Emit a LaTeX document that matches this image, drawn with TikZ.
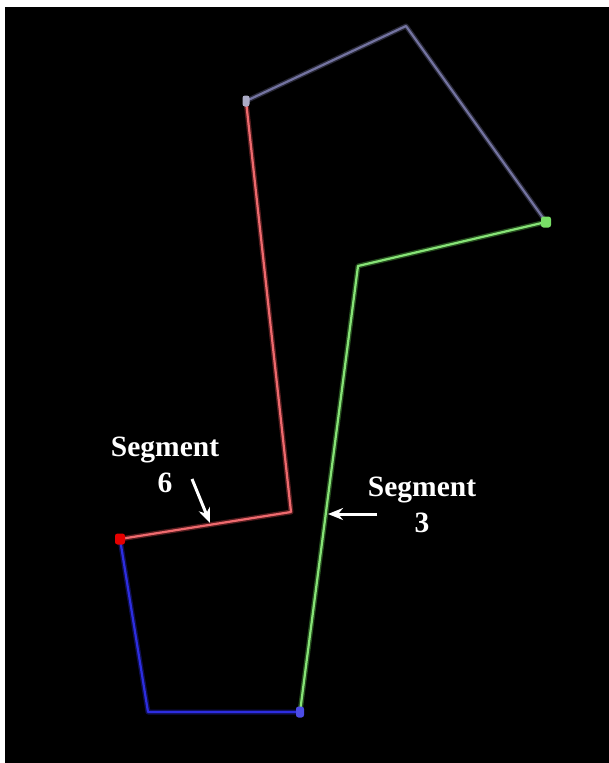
\documentclass[tikz,border=0pt]{standalone}
\usepackage{fontspec}
\setmainfont{Liberation Serif}
\usepackage{tikz}
\usetikzlibrary{arrows.meta, positioning}
\usepackage{xcolor}

\definecolor{seggray}{RGB}{115,115,160}
\definecolor{seggreen}{RGB}{105,220,85}
\definecolor{segblue}{RGB}{45,45,225}
\definecolor{segred}{RGB}{235,80,85}

\begin{document}
\begin{tikzpicture}[
  x=1pt, y=-1pt,
  >=Stealth,
  link/.style={line width=2.2pt, line join=round, line cap=round},
  glow/.style={line width=5pt, line join=round, line cap=round, opacity=0.35},
  joint/.style={
    rectangle, rounded corners=2.5pt, inner sep=0pt,
    minimum width=10pt, minimum height=11pt
  },
  tag/.style={
    align=center, text=white, inner sep=0pt,
    font=\fontsize{29.5}{36}\selectfont\bfseries
  },
  pointer/.style={white, line width=3pt, -{Stealth[length=15pt, width=12pt]}}
]

% frame
\useasboundingbox (0,0) rectangle (609,763);
\fill[white] (0,0) rectangle (609,763);
\fill[black] (5,7) rectangle (609,763);

% joints of the chain
\coordinate (top) at (246,101);
\coordinate (apex) at (406,26);
\coordinate (right) at (546,222);
\coordinate (bendg) at (358,266);
\coordinate (bottom) at (300,712);
\coordinate (bendb) at (148,712);
\coordinate (left) at (120,539);
\coordinate (bendr) at (291,512);

% segments
\draw[glow, seggray] (top) -- (apex) -- (right);
\draw[link, seggray] (top) -- (apex) -- (right);
\draw[glow, seggreen] (right) -- (bendg) -- (bottom);
\draw[link, seggreen!80!white] (right) -- (bendg) -- (bottom);
\draw[glow, segblue] (bottom) -- (bendb) -- (left);
\draw[link, segblue] (bottom) -- (bendb) -- (left);
\draw[glow, segred] (left) -- (bendr) -- (top);
\draw[link, segred!85!white] (left) -- (bendr) -- (top);

% markers
\node[joint, fill=seggray!60!white, minimum width=7pt] (topmark) at (top) {};
\node[joint, fill=seggreen!90!white] (rightmark) at (right) {};
\node[joint, fill=segblue!85!white, minimum width=8pt] (bottommark) at (bottom) {};
\node[joint, fill=red!90!black] (leftmark) at (left) {};

% labels
\node[tag] (seg6) at (165,465) {Segment\\6};
\node[tag] (seg3) at (422,505) {Segment\\3};

\coordinate (from6) at (192,479);
\coordinate (to6) at (210,523);
\coordinate (from3) at (377,514);
\coordinate (to3) at (328,514);
\draw[pointer] (from6) -- (to6);
\draw[pointer] (from3) -- (to3);

\end{tikzpicture}
\end{document}
